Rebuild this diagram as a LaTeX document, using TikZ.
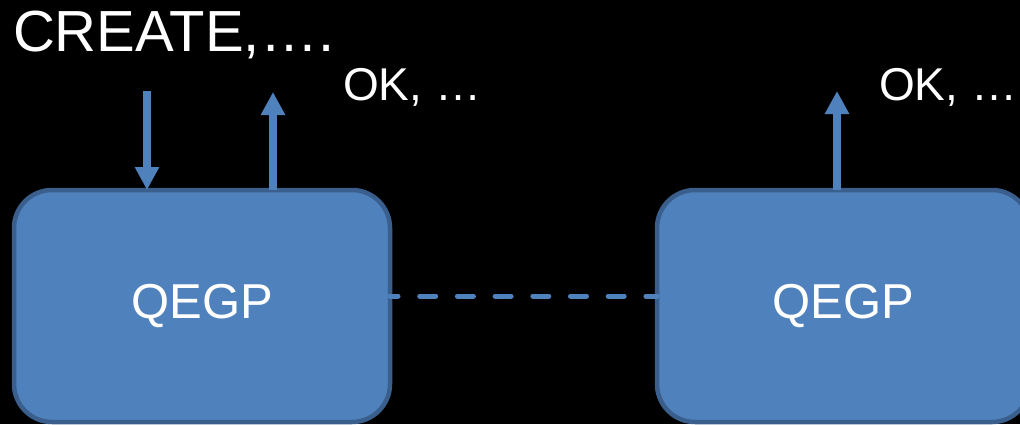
\documentclass[tikz,border=0pt]{standalone}
\usepackage{fontspec}
\setmainfont{Liberation Sans}
\usetikzlibrary{arrows.meta}
\definecolor{boxfill}{HTML}{4F81BD}
\definecolor{boxline}{HTML}{3A5F8C}
\tikzset{
  qbox/.style={draw=boxline, line width=4.5pt, fill=boxfill, rounded corners=38pt,
    minimum width=#1, minimum height=232pt, inner sep=0pt, outer sep=0pt,
    text=white, font=\fontsize{49}{55}\selectfont},
  lbl/.style={text=white, inner sep=0pt, outer sep=0pt, anchor=base west},
  flow/.style={draw=boxfill, line width=8pt, -{Triangle[length=23pt,width=23pt]}},
  link/.style={draw=boxfill, line width=5pt, line cap=round, dash pattern=on 16pt off 21.7pt, dash phase=8pt}
}
\begin{document}
\begin{tikzpicture}[x=1pt,y=-1pt]
\fill[black] (0,0) rectangle (1020,424);
\useasboundingbox (0,0) rectangle (1020,424);
\node[qbox=376pt] (b1) at (202,306) {QEGP};
\node[qbox=373pt] (b2) at (843.5,306) {QEGP};
\node[lbl, font=\fontsize{58}{62}\selectfont] (create) at (13,51) {CREATE,….};
\node[lbl, font=\fontsize{46}{52}\selectfont] (ok1) at (343,100) {OK, …};
\node[lbl, font=\fontsize{46}{52}\selectfont] (ok2) at (879,100) {OK, …};
\coordinate (in1) at (147,91);
\coordinate (out1) at (273,92);
\coordinate (out2) at (837,91);
\draw[flow] (in1) -- (in1 |- b1.north);
\draw[flow] (out1 |- b1.north) -- (out1);
\draw[flow] (out2 |- b2.north) -- (out2);
\draw[link] ([yshift=10pt]b1.east) -- ([yshift=10pt]b2.west);
\end{tikzpicture}
\end{document}
